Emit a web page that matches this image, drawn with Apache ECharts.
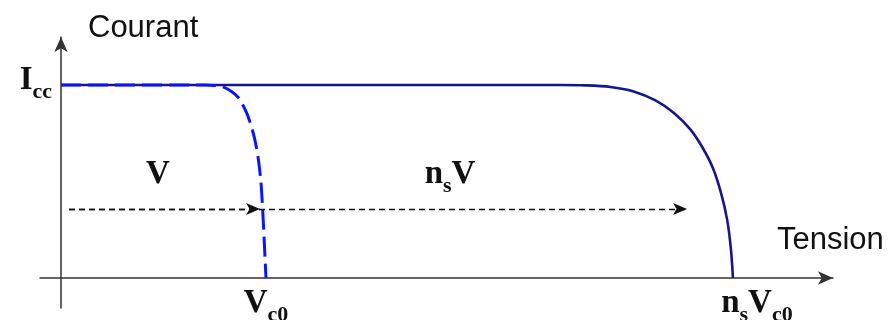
<!DOCTYPE html>
<html>
<head>
<meta charset="utf-8">
<script src="https://cdn.jsdelivr.net/npm/echarts@6/dist/echarts.min.js"></script>
<style>
  html, body { margin: 0; padding: 0; background: #fff; }
  #chart { width: 892px; height: 320px; }
</style>
</head>
<body>
<div id="chart"></div>
<script>
// I–V characteristic of a single cell and of ns cells in series (normalised: Vc0 = 1, Icc = 1)
const cellVoltage   = [0, 0.702, 0.750, 0.790, 0.830, 0.865, 0.895, 0.920, 0.945, 0.962, 0.975, 0.984, 0.992, 1.0];
const cellCurrent   = [1, 1, 0.998, 0.990, 0.968, 0.935, 0.880, 0.815, 0.720, 0.620, 0.500, 0.350, 0.180, 0];
const stringVoltage = [0, 2.434, 2.560, 2.680, 2.790, 2.900, 2.990, 3.070, 3.130, 3.180, 3.220, 3.250, 3.268, 3.278];
const stringCurrent = [1, 1, 0.998, 0.990, 0.968, 0.920, 0.855, 0.770, 0.675, 0.570, 0.440, 0.300, 0.150, 0];

// horizontal voltage arrows
const arrowLevel = 0.358;
const arrowFrom = 0.039;
const arrowTo = [0.971, 3.054];

// tick labels
const xTicks = [1, 3.278];
const xTickLabels = ['{b|V}{s|c0}', '{pad|}{b|n}{s|s}{b|V}{s|c0}'];
const yTicks = [1];
const yTickLabels = ['{b|I}{s|cc}'];

// annotations inside the plot
const noteX = [0.473, 1.898];
const noteY = [0.513, 0.513];
const noteText = ['{b|V}', '{b|n}{s|s}{b|V}'];

const serif = 'Liberation Serif, Times New Roman, serif';
const sans = 'Liberation Sans, Arial, sans-serif';
const ink = '#111';

const rich = {
  b: { fontFamily: serif, fontWeight: 'bold', fontSize: 33, color: ink, lineHeight: 36, padding: [0, 0, 6, 0], verticalAlign: 'bottom' },
  s: { fontFamily: serif, fontWeight: 'bold', fontSize: 22, color: ink, lineHeight: 22, verticalAlign: 'bottom' },
  pad: { width: 48 }
};

const zip = (a, b) => a.map((v, i) => [v, b[i]]);

const chart = echarts.init(document.getElementById('chart'), null, { renderer: 'canvas' });

chart.setOption({
  animation: false,
  backgroundColor: '#fff',
  grid: { left: 40, right: 59, top: 37, bottom: 12, containLabel: false, outerBoundsMode: 'none' },
  xAxis: {
    type: 'value',
    min: -0.1024,
    max: 3.766,
    name: 'Tension',
    nameLocation: 'end',
    nameGap: -56,
    nameMoveOverlap: false,
    nameTextStyle: { fontFamily: sans, fontSize: 31, color: ink, align: 'left', verticalAlign: 'bottom', lineHeight: 76 },
    axisLine: { onZero: true, symbol: ['none', 'arrow'], symbolSize: [10, 15], lineStyle: { color: '#333', width: 1.5 } },
    axisTick: { show: false },
    splitLine: { show: false },
    axisLabel: {
      customValues: xTicks,
      margin: -18,
      formatter: (v) => xTickLabels[xTicks.indexOf(v)],
      rich: rich
    }
  },
  yAxis: {
    type: 'value',
    min: -0.1554,
    max: 1.2487,
    name: 'Courant',
    nameLocation: 'end',
    nameGap: 9,
    nameMoveOverlap: false,
    nameTextStyle: { fontFamily: sans, fontSize: 31, color: ink, align: 'left', verticalAlign: 'middle', padding: [0, 0, 0, 27] },
    axisLine: { onZero: true, symbol: ['none', 'arrow'], symbolSize: [10, 15], lineStyle: { color: '#333', width: 1.5 } },
    axisTick: { show: false },
    splitLine: { show: false },
    axisLabel: {
      customValues: yTicks,
      margin: -12,
      formatter: (v) => yTickLabels[yTicks.indexOf(v)],
      rich: rich
    }
  },
  series: [
    {
      name: 'ns cellules',
      type: 'line',
      data: zip(stringVoltage, stringCurrent),
      showSymbol: false,
      smooth: 0.3,
      lineStyle: { color: '#16168c', width: 2.6 },
      z: 2
    },
    {
      name: 'cellule',
      type: 'line',
      data: zip(cellVoltage, cellCurrent),
      showSymbol: false,
      smooth: 0.3,
      lineStyle: { color: '#0a14ff', width: 3, type: [20, 7] },
      z: 3
    },
    {
      name: 'fleches',
      type: 'line',
      data: [],
      markLine: {
        silent: true,
        symbol: ['none', 'arrow'],
        symbolSize: [9, 14],
        label: { show: false },
        lineStyle: { color: ink, width: 1.3, type: [6, 4] },
        data: arrowTo.map((x) => [{ coord: [arrowFrom, arrowLevel] }, { coord: [x, arrowLevel] }])
      },
      z: 4
    },
    {
      name: 'notes',
      type: 'scatter',
      data: zip(noteX, noteY),
      symbolSize: 0,
      itemStyle: { opacity: 1 },
      label: {
        show: true,
        position: 'inside',
        formatter: (p) => noteText[p.dataIndex],
        rich: rich
      },
      z: 5
    }
  ]
});
</script>
</body>
</html>
